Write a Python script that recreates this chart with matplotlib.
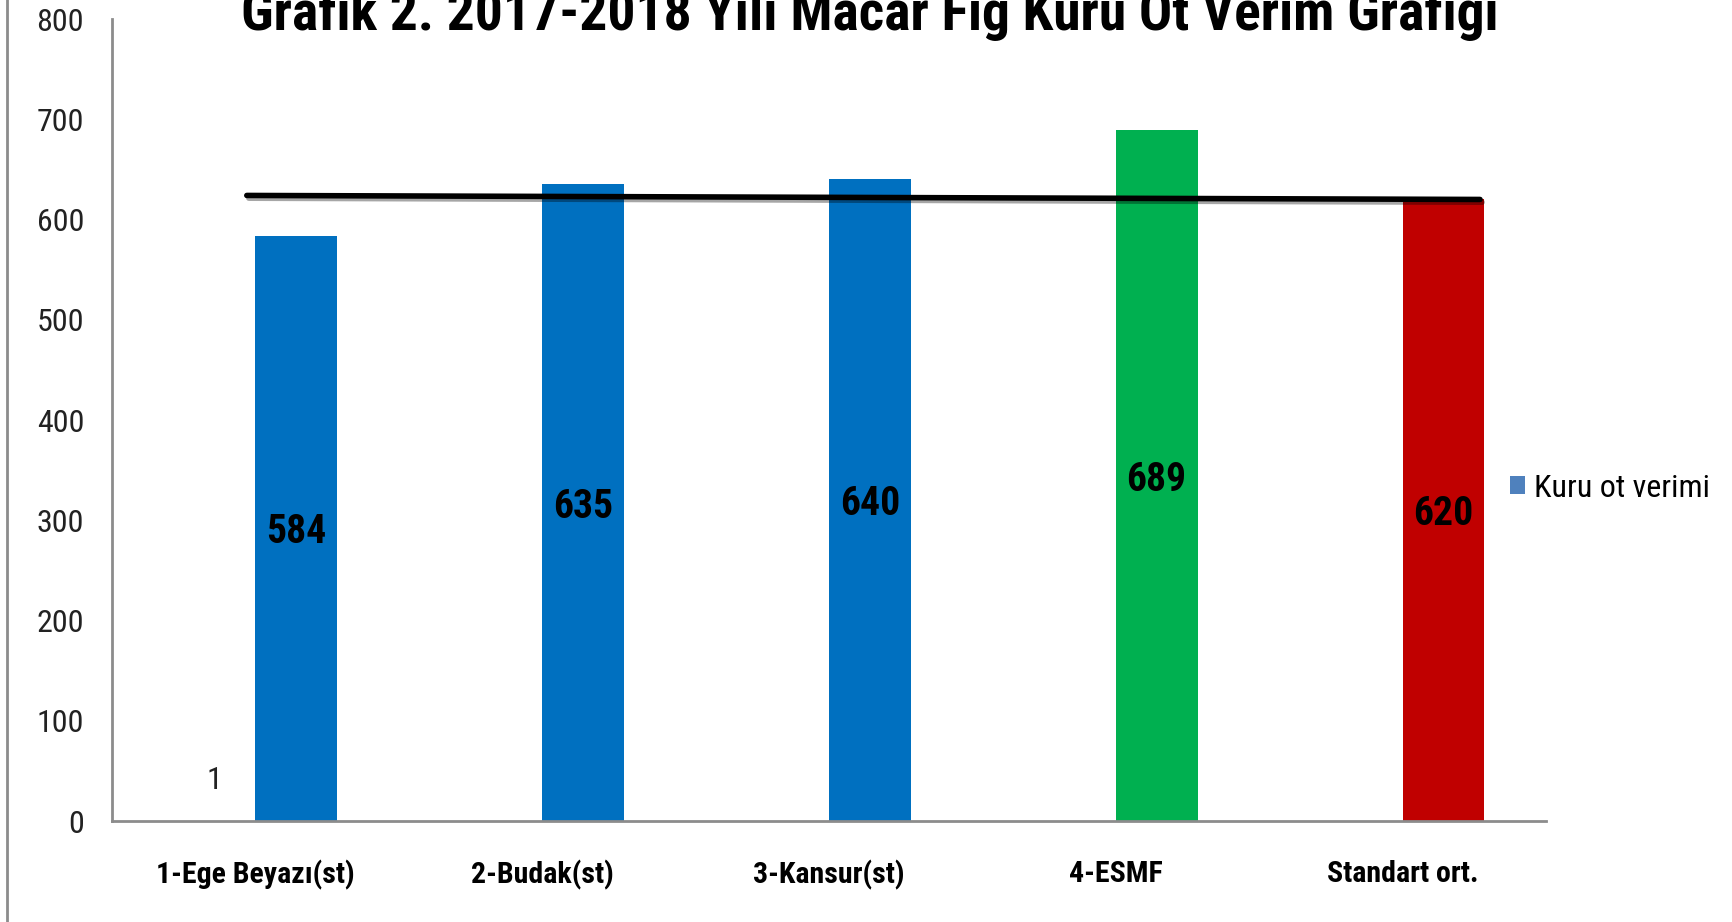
import matplotlib
matplotlib.use("Agg")
import matplotlib.pyplot as plt
import matplotlib.patheffects as pe
from matplotlib.patches import Patch
from matplotlib.lines import Line2D
import numpy as np

# data
categories = ["1-Ege Beyazı(st)", "2-Budak(st)", "3-Kansur(st)", "4-ESMF", "Standart ort."]
yield_values = [584, 635, 640, 689, 620]
first_series = [1]          # stray series value shown only at the first category
bar_colors = ["#0070C0", "#0070C0", "#0070C0", "#00B050", "#C00000"]
ref_line_x = [-0.03, 4.27]
ref_line_y = [624, 620]
title = "Grafik 2. 2017-2018 Yılı Macar Fiğ Kuru Ot Verim Grafiği"
legend_label = "Kuru ot verimi"

plt.rcParams['font.family'] = ['Roboto Condensed', 'DejaVu Sans']
plt.rcParams['font.stretch'] = 'condensed'

fig = plt.figure(figsize=(17.32, 9.22), dpi=100)
ax = fig.add_axes([112 / 1732, 101 / 922, (1546 - 112) / 1732, (821 - 19) / 922])

x = np.arange(len(categories))
w = 0.285

bars = ax.bar(x + w / 2, yield_values, width=w, color=bar_colors)
for b, v in zip(bars, yield_values):
    ax.annotate(str(v), (b.get_x() + b.get_width() / 2, v / 2),
                xytext=(0, -3), textcoords='offset points',
                ha='center', va='center', fontsize=28.5, fontweight='bold', color='black')

small = ax.bar(x[:1] - w / 2, first_series, width=w, color='none')
ax.bar_label(small, labels=[str(v) for v in first_series], padding=18,
             fontsize=23, color='#222222')

# hand-drawn reference line with a soft shadow
ax.plot(ref_line_x, ref_line_y, color='black', lw=4, solid_capstyle='round',
        path_effects=[pe.SimpleLineShadow(offset=(1.5, -2), alpha=0.35), pe.Normal()])

ax.set_xlim(-0.5, 4.5)
ax.set_ylim(0, 800)
ax.set_yticks(range(0, 801, 100))
ax.set_xticks(x)
ax.set_xticklabels(categories, fontsize=21.5, fontweight='bold')
ax.tick_params(axis='y', length=0, pad=20, labelsize=23, labelcolor='#222222')
ax.tick_params(axis='x', length=0, pad=28)

for s in ['top', 'right']:
    ax.spines[s].set_visible(False)
for s in ['left', 'bottom']:
    ax.spines[s].set_color('#8c8c8c')
    ax.spines[s].set_linewidth(2)

fig.text(870 / 1732, 1 - 30 / 922, title, ha='center', va='baseline',
         fontsize=40, fontweight='bold')

handle = Patch(facecolor='#4F81BD', edgecolor='none')
fig.legend([handle], [legend_label], loc='center left',
           bbox_to_anchor=(1481 / 1732, 1 - 488 / 922), frameon=False,
           fontsize=23, handlelength=0.48, handleheight=0.48, handletextpad=0.28)

# outer chart border on the left
fig.add_artist(Line2D([7 / 1732, 7 / 1732], [0, 1], color='#8c8c8c', lw=2,
                      transform=fig.transFigure))

fig.savefig("out.png", dpi=100)
